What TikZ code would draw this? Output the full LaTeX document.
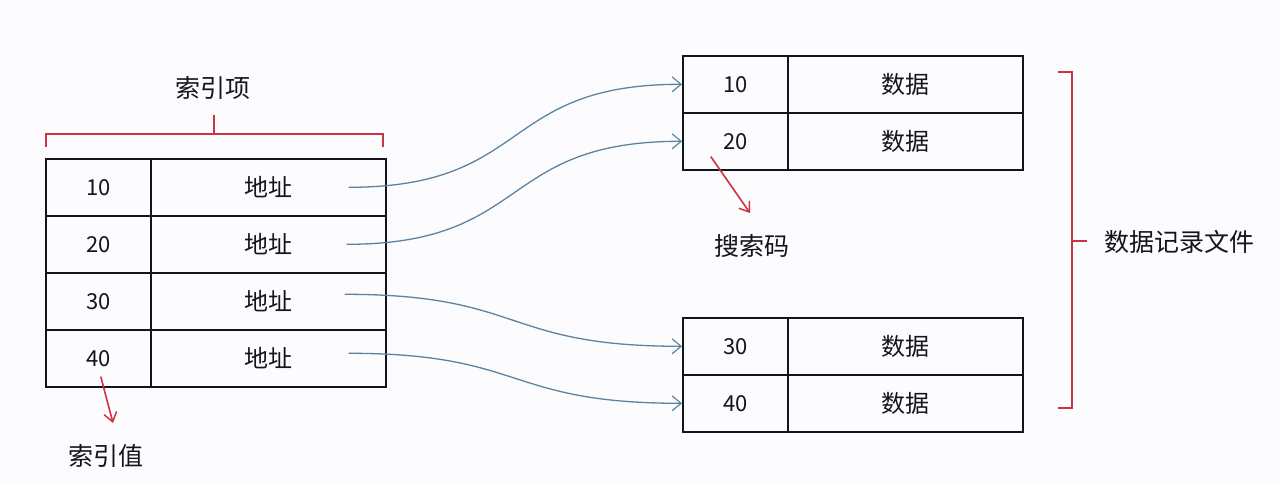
\documentclass[tikz,border=0pt]{standalone}
\usepackage{fontspec}
\setmainfont{Noto Sans CJK SC}
\usetikzlibrary{arrows.meta}
\definecolor{bg}{HTML}{FCFCFE}
\definecolor{ink}{HTML}{14141C}
\definecolor{linkblue}{HTML}{5A84A2}
\definecolor{mred}{HTML}{CC3340}
\tikzset{
  cell/.style={draw=ink, line width=1.6pt, inner sep=0pt, minimum height=57pt,
    anchor=north west, text=ink, font=\fontsize{22}{22}\selectfont},
  keycell/.style={cell, minimum width=105pt},
  valcell/.style={cell, minimum width=235pt, font=\fontsize{24}{24}\selectfont},
  lbl/.style={inner sep=0pt, text=ink, font=\fontsize{25}{25}\selectfont},
  link/.style={draw=linkblue, line width=1.3pt, -{Straight Barb[length=9pt,width=15pt,line width=1.2pt]}},
  redarr/.style={draw=mred, line width=1.6pt, -{Straight Barb[length=9pt,width=13pt,line width=1.5pt]}},
  brk/.style={draw=mred, line width=1.8pt}
}
\begin{document}
\begin{tikzpicture}[x=1pt,y=-1pt]
\fill[bg] (0,0) rectangle (1280,484);
\useasboundingbox (0,0) rectangle (1280,484);

% left index table
\node[keycell] (k1) at (45,158) {10};
\node[valcell] (a1) at (150,158) {地址};
\node[keycell] (k2) at (45,215) {20};
\node[valcell] (a2) at (150,215) {地址};
\node[keycell] (k3) at (45,272) {30};
\node[valcell] (a3) at (150,272) {地址};
\node[keycell] (k4) at (45,329) {40};
\node[valcell] (a4) at (150,329) {地址};

% right data tables
\node[keycell] (r1) at (682,55) {10};
\node[valcell] (d1) at (787,55) {数据};
\node[keycell] (r2) at (682,112) {20};
\node[valcell] (d2) at (787,112) {数据};
\node[keycell] (r3) at (682,317) {30};
\node[valcell] (d3) at (787,317) {数据};
\node[keycell] (r4) at (682,374) {40};
\node[valcell] (d4) at (787,374) {数据};

% labels
\node[lbl] (idx) at (213,88) {索引项};
\node[lbl] (val) at (106,456) {索引值};
\node[lbl] (sk) at (752,246) {搜索码};
\node[lbl, anchor=west] (file) at (1104,242) {数据记录文件};

% brackets
\draw[brk] (46,147) -- (46,134) -- (383,134) -- (383,147);
\draw[brk] (214,134) -- (214,115);
\draw[brk] (1058,72) -- (1072,72) -- (1072,408) -- (1058,408);
\draw[brk] (1072,241) -- (1087,241);

% links
\draw[link] ([xshift=-38pt]a1.east) to[out=0,in=180,looseness=1.35] (r1.west);
\draw[link] ([xshift=-40pt]a2.east) to[out=0,in=180,looseness=1.35] (r2.west);
\draw[link] ([xshift=-42pt,yshift=7pt]a3.east) to[out=0,in=180,looseness=1.35] (r3.west);
\draw[link] ([xshift=-38pt,yshift=5pt]a4.east) to[out=0,in=180,looseness=1.35] (r4.west);

% red pointers
\coordinate (t1) at (113,423);
\coordinate (t2) at (750,213);
\draw[redarr] ([xshift=2.5pt,yshift=11pt]k4.south) -- (t1);
\draw[redarr] ([xshift=-24.5pt,yshift=14pt]r2.south) -- (t2);
\end{tikzpicture}
\end{document}
